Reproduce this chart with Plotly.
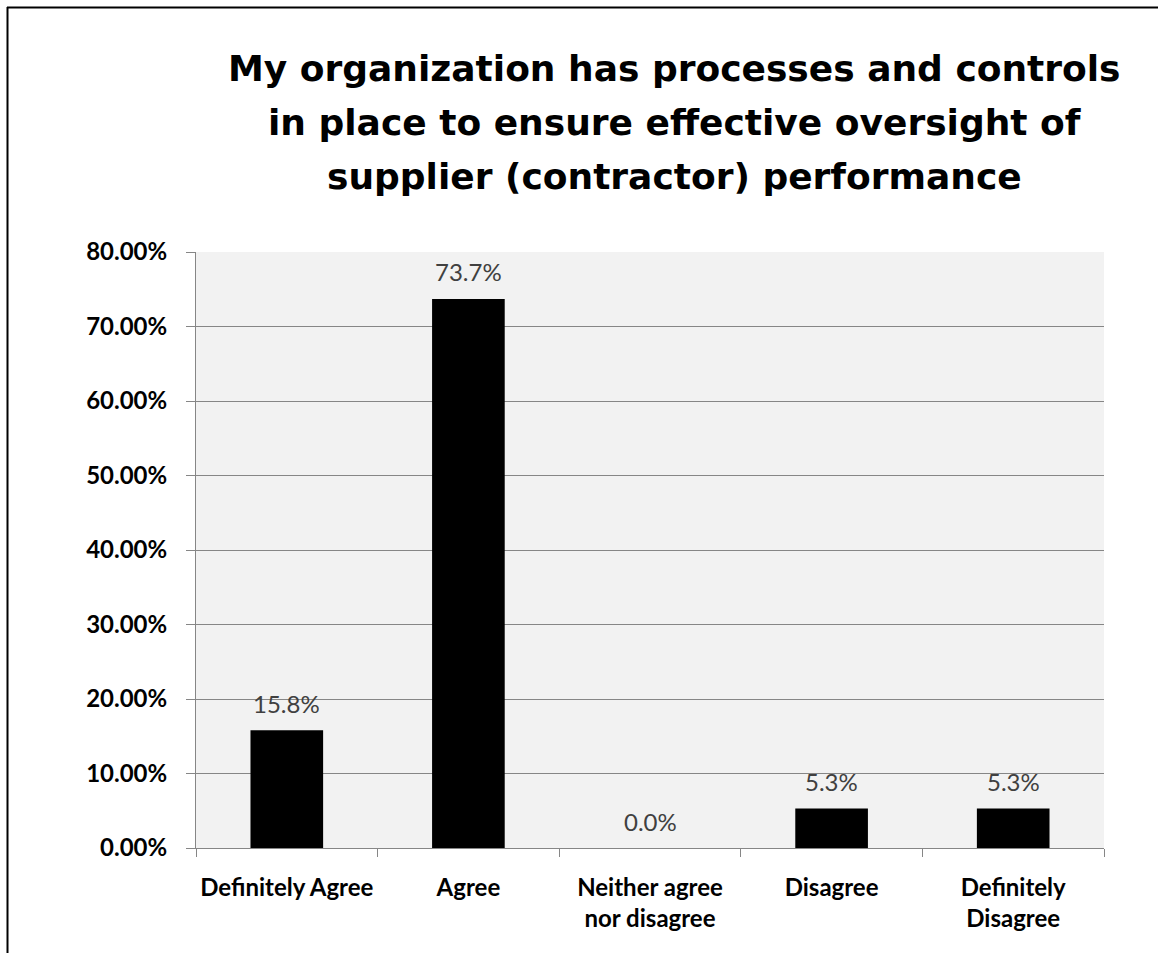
import plotly.graph_objects as go

categories = ["Definitely Agree", "Agree", "Neither agree<br>nor disagree", "Disagree", "Definitely<br>Disagree"]
values = [15.8, 73.7, 0.0, 5.3, 5.3]
ytick_vals = [0, 10, 20, 30, 40, 50, 60, 70, 80]
ytick_text = ["0.00%", "10.00%", "20.00%", "30.00%", "40.00%", "50.00%", "60.00%", "70.00%", "80.00%"]
title_lines = ["My organization has processes and controls",
               "in place to ensure effective oversight of",
               "supplier (contractor) performance"]

W, H = 1158, 953
L, R, T, B = 196, 54, 252, 105
pw, ph = W - L - R, H - T - B

def px_x(X):
    return (X - L) / pw

def px_y(Y):
    return (H - B - Y) / ph

fig = go.Figure()
fig.add_trace(go.Bar(x=categories, y=values, marker=dict(color="#000000", line=dict(width=0)),
                     width=0.4, hoverinfo="skip"))

annotations = []
for c, v in zip(categories, values):
    annotations.append(dict(x=c, y=v, xref="x", yref="y", text=f"{v:.1f}%", showarrow=False,
                            yanchor="middle", yshift=27,
                            font=dict(family="Lato", size=24, color="#404040")))
for line, Y in zip(title_lines, [68, 122, 176]):
    annotations.append(dict(x=px_x(674), y=px_y(Y), xref="paper", yref="paper", text=line,
                            showarrow=False, xanchor="center", yanchor="middle",
                            font=dict(family="DejaVu Sans", size=36, color="#000000", weight="bold")))

shapes = [
    dict(type="line", xref="paper", yref="paper", x0=px_x(7), x1=px_x(W), y0=px_y(7.5), y1=px_y(7.5),
         line=dict(color="#000000", width=2)),
    dict(type="line", xref="paper", yref="paper", x0=px_x(7.5), x1=px_x(7.5), y0=px_y(7), y1=px_y(H),
         line=dict(color="#000000", width=2)),
]

fig.update_layout(
    width=W, height=H,
    margin=dict(l=L, r=R, t=T, b=B, pad=0, autoexpand=False),
    paper_bgcolor="#ffffff", plot_bgcolor="#f2f2f2",
    showlegend=False,
    annotations=annotations,
    shapes=shapes,
    bargap=0.6,
)
fig.update_xaxes(
    type="category", showgrid=False, showline=True, linecolor="#868686", linewidth=1,
    ticks="outside", tickson="boundaries", ticklen=8, tickcolor="#868686",
    ticklabelstandoff=18, tickangle=0, automargin=False,
    tickfont=dict(family="Lato", size=24, color="#000000", weight="bold"),
)
fig.update_yaxes(
    range=[0, 80], tickvals=ytick_vals, ticktext=ytick_text,
    showgrid=True, gridcolor="#868686", gridwidth=1, zeroline=False,
    showline=True, linecolor="#868686", linewidth=1, automargin=False,
    ticks="outside", ticklen=9, tickcolor="#868686", ticklabelstandoff=14,
    tickfont=dict(family="Lato", size=24, color="#000000", weight="bold"),
)

fig.write_html("out.html")
